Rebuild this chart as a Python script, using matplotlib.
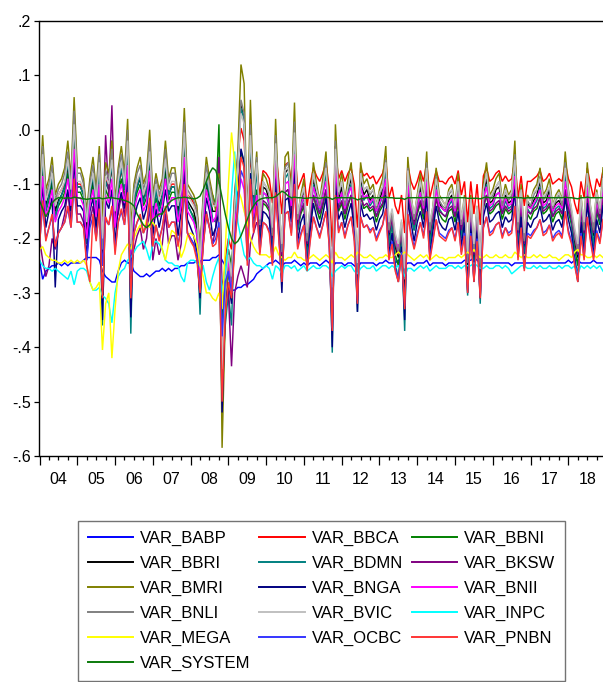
import numpy as np
import matplotlib
matplotlib.use("Agg")
import matplotlib.pyplot as plt
from matplotlib.ticker import FixedLocator, FuncFormatter, NullFormatter
from matplotlib.lines import Line2D

# Monthly observations 2004M01 - 2018M12; values in hundredths (1 = 0.01)
start_year = 2004
n_obs = 180

var_babp = [-24,-27.5,-26,-25.5,-25,-25,-24.5,-25,-24.5,-25,-24.5,-24.5,
 -24.5,-24.5,-24,-23.5,-23.5,-23.5,-23.5,-24,-26,-27,-27.5,-28,
 -28,-26,-24.5,-24,-24.5,-24.5,-26,-26.5,-27,-27,-26.5,-27,
 -26.5,-26,-26,-25.5,-26,-25.5,-26,-25.5,-25.5,-25,-25,-24.5,
 -24.5,-24.5,-24,-24.5,-24,-24,-24,-23.5,-23.5,-23,-24,-25,
 -27,-29.5,-29.5,-29,-29,-28.5,-28.5,-28,-27.5,-26.5,
 -26,-25.5,-25,-24.5,-24.5,-24,-24.5,-25,-24.5,-24.5,
 -24.5,-24,-24.5,-25,-24.5,-25,-24.5,-24.5,-24.5,-25,
 -24.5,-24,-24.5,-25.5,-24.5,-24.5,-24.5,-25,-24.5,-24.5,
 -25,-25.5,-24.5,-24.5,-24.5,-24.5,-24.5,-25,-24.5,-24.5,
 -24,-24.5,-24.5,-24.5,-24,-24.5,-25,-24.5,-24.5,-25,
 -24.5,-24.5,-24.5,-24,-25,-24.5,-24.5,-24.5,-24.5,-25,
 -24.5,-24.5,-24.5,-24.5,-24.5,-24,-24,-24,-23.5,-24,
 -24.5,-24.5,-24.5,-24.5,-24.5,-24.5,-24.5,-24.5,-24.5,-24.5,
 -25,-24.5,-24.5,-24.5,-24.5,-24.5,-24.5,-24.5,-24.5,-24.5,
 -24.5,-24.5,-24.5,-24.5,-24.5,-24.5,-24.5,-24.5,-24,-24.5,
 -24,-24,-24.5,-24.5,-24.5,-24.5,-24,-24.5,-24.5,-24.5]

var_bbca = [-13.5,-6,-12.5,-11,-8.5,-13.5,-12,-11,-10,-7,-11,-2,
 -10,-10,-11,-16,-11,-8.5,-12.5,-7.5,-20,-9,-10.5,-7,
 -14,-10,-7.5,-10.5,-4.5,-20,-12,-10,-8.5,-12,-10.5,-5.5,
 -13.5,-10.5,-12.5,-11,-7,-11,-10,-10,-13.5,-11,-3,-12,
 -12.5,-13.5,-15,-22,-13.5,-8.5,-11,-13.5,
 -14,-11,-40,-24,-20,-22,-12,-5,0.3,-2,-14,-5,-11,-7,
 -12,-7.5,-8,-9,-13.5,-3.5,-9.5,-15.5,-6.5,-6,
 -9.5,-2.5,-11,-9.5,-8,-14,-10,-7,-8.5,-9.5,
 -8,-6,-10.5,-21.5,-4,-9,-7.5,-9.5,-8,-7,
 -10,-18,-7,-8.5,-8,-9,-8.5,-10,-9,-8,
 -5.5,-12.5,-10.5,-14,-15.5,-12,-19,-6.5,-9.5,-11,
 -9.5,-7.5,-9.5,-6,-12.5,-10,-7.5,-9.5,-9.5,-10,
 -9,-8.5,-10,-7.5,-12,-9.5,-17,-9.5,-15.5,-10,
 -17.5,-8.5,-7,-9.5,-9,-8,-7.5,-9.5,-8.5,-9.5,
 -9,-5.5,-12.5,-8.5,-14,-9.5,-9.5,-9,-8.5,-7.5,
 -9.5,-9,-8,-10,-9.5,-9,-9.5,-6,-9,-10.5,
 -13.5,-15.5,-9.5,-12.5,-7,-10,-12.5,-9,-10.5,-7.5]

var_bbni = [-16,-7.5,-15,-13,-10,-16,-14,-13,-11.5,-8,-13,-2.5,
 -11.5,-11.5,-13,-19,-13,-10,-15,-9,-20,-11,-12.5,-2,
 -17,-11.5,-9,-12.5,-5.5,-22,-14,-11.5,-10,-14,-12.5,-6.5,
 -16,-12.5,-15,-13,-8,-13,-11.5,-11.5,-16,-13,-4,-14,
 -15,-16,-18,-26,-16,-10,-13,-12,
 -14,1,-35,-27,-22,-25,-16,-14,-4,-6,-22,-8,-16,-11,
 -19.5,-13.5,-14,-15,-22,-7.5,-16.5,-25,-11.5,-11,
 -15.5,-5.5,-18.5,-15.5,-14,-23,-17,-12,-14.5,-16.5,
 -14,-11,-17.5,-35,-8,-15,-13.5,-16.5,-14,-12,
 -17,-29.5,-12,-14.5,-14,-15,-14.5,-17,-15,-14,
 -10.5,-21,-17.5,-23,-25,-19.5,-31,-11.5,-15.5,-18.5,
 -15.5,-13.5,-16.5,-11,-21,-17,-12.5,-15.5,-16.5,-17,
 -15,-14.5,-17,-13.5,-19.5,-15.5,-27.5,-15.5,-25,-17,
 -28.5,-14.5,-12,-15.5,-15,-14,-13.5,-16.5,-14.5,-15.5,
 -15,-9.5,-21,-14.5,-23,-15.5,-16.5,-15,-14.5,-12.5,
 -15.5,-15,-14,-17,-15.5,-15,-16.5,-11,-15,-17.5,
 -22,-25,-15.5,-21,-12,-17,-21,-15,-17.5,-12.5]

var_bbri = [-15,-5.5,-14,-12,-9,-15,-13,-12,-10.5,-6.5,-12,0,
 -10.5,-10.5,-12,-18.5,-12,-9,-14,-7,-25,-9.5,-11,-6.5,
 -16.5,-10.5,-7,-11,-3,-26,-13,-10.5,-9,-13,-11,-5,
 -15,-11,-14,-12,-6.5,-12,-10.5,-10.5,-15,-12,-1.5,-13,
 -14,-15,-17.5,-26,-15,-9,-12,-15,
 -15,-10,-48,-28,-24,-28,-14,-6,4.5,2,-19,0,-13,-6,
 -18,-10.5,-11,-13,-20.5,-2.5,-14.5,-23.5,-8,-7,
 -13.5,0,-17,-13.5,-11,-21.5,-15,-9,-12,-14.5,
 -11,-7,-16,-33.5,-3,-13,-10.5,-14.5,-11,-9,
 -15,-28,-9,-12,-11,-13,-12,-15,-13,-11,
 -6.5,-19.5,-16,-21.5,-23.5,-18,-29,-8,-13.5,-17,
 -13.5,-10.5,-14.5,-7,-19.5,-15,-9.5,-13.5,-14.5,-15,
 -13,-12,-15,-10.5,-18,-13.5,-26,-13.5,-23.5,-15,
 -27,-12,-9,-13.5,-13,-11,-10.5,-14.5,-12,-13.5,
 -13,-5.5,-19.5,-12,-21.5,-13.5,-14.5,-13,-12,-9.5,
 -13.5,-13,-11,-15,-13.5,-13,-14.5,-7,-13,-16,
 -20.5,-23.5,-13.5,-19.5,-9,-15,-19.5,-13,-16,-9.5]

var_bdmn = [-16.5,-5,-15,-12,-8.5,-16.5,-13.5,-12,-10.5,-6,-12,1,
 -10.5,-10.5,-12,-21,-12,-8.5,-15,-7,-36,-9.5,-11,-6,
 -18,-10.5,-7,-11,-2.5,-37.5,-13.5,-10.5,-8.5,-13.5,-11,-4.5,
 -16.5,-11,-15,-12,-6,-12,-10.5,-10.5,-16.5,-12,-1,-13.5,
 -15,-16.5,-19.5,-34,-16.5,-8.5,-12,-16.5,
 -17,-12,-47,-36,-30,-36,-16,-6,4,2,-22,-1,-15,-7,
 -20,-11.5,-12,-14,-23,-3.5,-15.5,-27.5,-9,-8,
 -14.5,-1,-18.5,-14.5,-12,-24.5,-16,-10,-13,-15.5,
 -12,-8,-17,-41,-4,-14,-11.5,-15.5,-12,-10,
 -16,-33.5,-10,-13,-12,-14,-13,-16,-14,-12,
 -7.5,-21.5,-17,-24.5,-27.5,-20,-37,-9,-14.5,-18.5,
 -14.5,-11.5,-15.5,-8,-21.5,-16,-10.5,-14.5,-15.5,-16,
 -14,-13,-16,-11.5,-20,-14.5,-30.5,-14.5,-27.5,-16,
 -32,-13,-10,-14.5,-14,-12,-11.5,-15.5,-13,-14.5,
 -14,-6.5,-21.5,-13,-24.5,-14.5,-15.5,-14,-13,-10.5,
 -14.5,-14,-12,-16,-14.5,-14,-15.5,-8,-14,-17,
 -23,-27.5,-14.5,-21.5,-10,-16,-21.5,-14,-17,-10.5]

var_bksw = [-20,-24,-27,-25,-20,-22,-19,-18,-15.5,-11.5,-17,-5,
 -15.5,-15.5,-17,-23,-17,-14,-19,-12,-21,-1,-12,4.5,
 -17,-15.5,-12,-16,-8,-26,-22,-19.5,-18,-22,-20,-14,
 -24,-20,-23,-21,-15.5,-21,-19.5,-19.5,-24,-21,-8,-19,
 -20,-21,-23,-30,-21,-15,-18,-21,
 -18,-5,-30,-25,-30,-43.5,-30,-27,-25,-27,-29,-21,-19,-17,
 -18.5,-13,-13.5,-14.5,-20,-8,-15.5,-23,-11.5,-11,
 -15,-6.5,-17.5,-15,-13.5,-21,-16,-12,-14,-15.5,
 -13.5,-11,-16.5,-31,-8.5,-14.5,-13,-15.5,-13.5,-12,
 -16,-26.5,-12,-14,-13.5,-14.5,-14,-16,-14.5,-13.5,
 -10.5,-19,-16.5,-21,-23,-18.5,-27.5,-11.5,-15,-17.5,
 -15,-13,-15.5,-11,-19,-16,-12.5,-15,-15.5,-16,
 -14.5,-14,-16,-13,-18.5,-15,-24.5,-15,-23,-16,
 -25.5,-14,-12,-15,-14.5,-13.5,-13,-15.5,-14,-15,
 -14.5,-10,-19,-14,-21,-15,-15.5,-14.5,-14,-12.5,
 -15,-14.5,-13.5,-16,-15,-14.5,-15.5,-11,-14.5,-16.5,
 -20,-23,-15,-19,-12,-16,-19,-14.5,-16.5,-12.5]

var_bmri = [-12,-1,-11,-9,-5,-12,-10,-9,-7,-2,-9,6,
 -7,-7,-9,-15,-9,-5,-11,-3,-16,-6,-8,-2,
 -13,-7,-3,-8,2,-18,-10,-7,-5,-10,-8,0,
 -12,-8,-11,-9,-2,-9,-7,-7,-12,-9,4,-10,
 -11,-12,-14,-22,-12,-5,-9,-12,
 -15,-8,-58.5,-35,-25,-30,-12,-4,12,8.5,-18,5.5,-12,-4,
 -17,-8,-9,-11,-19,2,-13,-22,-5,-4,
 -12,5,-16,-12,-9,-20,-14,-6,-10,-13,
 -9,-4,-15,-31,1,-11,-8,-13,-9,-6,
 -14,-26,-6,-10,-9,-11,-10,-14,-11,-9,
 -3,-18,-15,-20,-22,-17,-27,-5,-12,-16,
 -12,-8,-13,-4,-18,-14,-7,-12,-13,-14,
 -11,-10,-14,-8,-17,-12,-24,-12,-22,-14,
 -25,-10,-6,-12,-11,-9,-8,-13,-10,-12,
 -11,-2,-18,-10,-20,-12,-13,-11,-10,-7,
 -12,-11,-9,-14,-12,-11,-13,-4,-11,-15,
 -19,-22,-12,-18,-6,-14,-18,-11,-15,-7]

var_bnga = [-19.5,-10,-18,-15,-12.5,-29,-16.5,-15,-14,-11,-15,-6,
 -14,-14,-15,-24,-15,-12.5,-18,-11.5,-35,-13,-14.5,-11,
 -21,-14,-11.5,-14.5,-8.5,-34.5,-16.5,-14,-12.5,-16.5,-14.5,-9.5,
 -19.5,-14.5,-18,-15,-11,-15,-14,-14,-19.5,-15,-7,-16.5,
 -18,-19.5,-22.5,-31,-19.5,-12.5,-15,-19.5,
 -18,-15,-52,-33,-28,-32,-20,-12,-3.5,-6,-24,-8,-18,-12,
 -21.5,-15,-15.5,-16.5,-24,-9,-18,-30,-13,-12.5,
 -17,-7,-20.5,-17,-15.5,-25.5,-18.5,-13.5,-16,-18,
 -15.5,-12.5,-19,-40,-9.5,-16.5,-15,-18,-15.5,-13.5,
 -18.5,-33.5,-13.5,-16,-15.5,-16.5,-16,-18.5,-16.5,-15.5,
 -12,-23,-19,-25.5,-28,-21.5,-35,-13,-17,-20.5,
 -17,-15,-18,-12.5,-23,-18.5,-14,-17,-18,-18.5,
 -16.5,-16,-18.5,-15,-21.5,-17,-30,-17,-28,-18.5,
 -31,-16,-13.5,-17,-16.5,-15.5,-15,-18,-16,-17,
 -16.5,-11,-23,-16,-25.5,-17,-18,-16.5,-16,-14,
 -17,-16.5,-15.5,-18.5,-17,-16.5,-18,-12.5,-16.5,-19,
 -24,-28,-17,-23,-13.5,-18.5,-23,-16.5,-19,-14]

var_bnii = [-17,-8.5,-16,-14,-11,-17,-15,-14,-12.5,-9,-14,-3.5,
 -12.5,-12.5,-14,-20,-14,-11,-16,-10,-22,-12,-13.5,-9,
 -18,-12.5,-10,-13.5,-6.5,-23,-15,-12.5,-11,-15,-13.5,-7.5,
 -17,-13.5,-16,-14,-9,-14,-12.5,-12.5,-17,-14,-5,-15,
 -16,-17,-19,-27,-17,-11,-14,-17,
 -16,-12,-42,-28,-24,-30,-17,-13,-9,-11,-21,-10,-16,-12,
 -17.5,-11.5,-12,-13.5,-19,-6,-14.5,-22,-10,-9.5,
 -14,-4.5,-16.5,-14,-12,-20,-15,-10.5,-12.5,-14.5,
 -12,-9.5,-15.5,-30,-6.5,-13.5,-11.5,-14.5,-12,-10.5,
 -15,-25.5,-10.5,-12.5,-12,-13.5,-12.5,-15,-13.5,-12,
 -9,-18,-15.5,-20,-22,-17.5,-26.5,-10,-14,-16.5,
 -14,-11.5,-14.5,-9.5,-18,-15,-11,-14,-14.5,-15,
 -13.5,-12.5,-15,-11.5,-17.5,-14,-23.5,-14,-22,-15,
 -24.5,-12.5,-10.5,-14,-13.5,-12,-11.5,-14.5,-12.5,-14,
 -13.5,-8.5,-18,-12.5,-20,-14,-14.5,-13.5,-12.5,-11,
 -14,-13.5,-12,-15,-14,-13.5,-14.5,-9.5,-13.5,-15.5,
 -19,-22,-14,-18,-10.5,-15,-18,-13.5,-15.5,-11]

var_bnli = [-13,-3,-12,-10,-6.5,-13,-11,-10,-8,-4,-10,3.5,
 -8,-8,-10,-16,-10,-6.5,-12,-4.5,-22,-7.5,-9,-3.5,
 -14,-8,-4.5,-9,0,-22,-11,-8,-6.5,-11,-9,-2,
 -13,-9,-12,-10,-3.5,-10,-8,-8,-13,-10,1.5,-11,
 -12,-13,-15,-23,-13,-6.5,-10,-13,
 -14,-9,-45,-30,-22,-28,-13,-5,5.5,3,-18,1,-12,-5,
 -17.5,-9.5,-10.5,-12,-19.5,-1,-14,-22.5,-7,-6,
 -13,1.5,-16.5,-13,-10.5,-20.5,-14.5,-8,-11,-14,
 -10.5,-6,-15.5,-31.5,-2,-12,-9.5,-14,-10.5,-8,
 -14.5,-26.5,-8,-11,-10.5,-12,-11,-14.5,-12,-10.5,
 -5.5,-18.5,-15.5,-20.5,-22.5,-17.5,-27.5,-7,-13,-16.5,
 -13,-9.5,-14,-6,-18.5,-14.5,-8.5,-13,-14,-14.5,
 -12,-11,-14.5,-9.5,-17.5,-13,-24.5,-13,-22.5,-14.5,
 -25.5,-11,-8,-13,-12,-10.5,-9.5,-14,-11,-13,
 -12,-4.5,-18.5,-11,-20.5,-13,-14,-12,-11,-8.5,
 -13,-12,-10.5,-14.5,-13,-12,-14,-6,-12,-15.5,
 -19.5,-22.5,-13,-18.5,-8,-14.5,-18.5,-12,-15.5,-8.5]

var_bvic = [-14,-4.5,-13,-11,-8,-14,-12,-11,-9.5,-5.5,-11,1,
 -9.5,-9.5,-11,-17,-11,-8,-13,-6,-20,-8.5,-10,-5.5,
 -15,-9.5,-6,-10,-2,-21,-12,-9.5,-8,-12,-10,-4,
 -14,-10,-13,-11,-5.5,-11,-9.5,-9.5,-14,-11,-0.5,-12,
 -13,-14,-16,-24,-14,-8,-11,-14,
 -14,-10,-44,-28,-23,-27,-14,-7,3,1,-17,-1,-12,-6,
 -16.5,-9.5,-10.5,-11.5,-18,-2.5,-13,-21,-7.5,-7,
 -12.5,-0.5,-15.5,-12.5,-10.5,-19,-14,-8,-11,-13,
 -10.5,-7,-14.5,-29,-3.5,-11.5,-9.5,-13,-10.5,-8,
 -14,-24.5,-8,-11,-10.5,-11.5,-11,-14,-11.5,-10.5,
 -6,-17,-14.5,-19,-21,-16.5,-25.5,-7.5,-12.5,-15.5,
 -12.5,-9.5,-13,-7,-17,-14,-9,-12.5,-13,-14,
 -11.5,-11,-14,-9.5,-16.5,-12.5,-22.5,-12.5,-21,-14,
 -23.5,-11,-8,-12.5,-11.5,-10.5,-9.5,-13,-11,-12.5,
 -11.5,-5.5,-17,-11,-19,-12.5,-13,-11.5,-11,-9,
 -12.5,-11.5,-10.5,-14,-12.5,-11.5,-13,-7,-11.5,-14.5,
 -18,-21,-12.5,-17,-8,-14,-17,-11.5,-14.5,-9]

var_inpc = [-24,-25,-25.5,-25.5,-26,-25.5,-26,-26.5,-27,-27.5,-26,-28.5,
 -26,-25.5,-25.5,-26,-28,-29.5,-29.5,-29,-30.5,-31,-32,-35.5,
 -30,-27,-26,-25.5,-24,-23.5,-22.5,-21.5,-21,-20.5,-22,-24,
 -21,-20.5,-21,-22,-24,-24.5,-24.5,-25,-25,-27,-28,-24.5,
 -24,-24,-24.5,-25,-25,-28,-29.5,-27,-25,-23.5,-30,-26,
 -21,-12,-4,-17,-20,-23,-24,-23.5,-24.5,-25,
 -25,-25.5,-25,-25.5,-27.5,-25,-25.5,-26.5,-25,-25,
 -25.5,-25,-26,-25.5,-25,-26,-25.5,-25,-25.5,-25.5,
 -25,-25,-25.5,-27,-26,-25.5,-25,-25.5,-25,-25,
 -26,-26.5,-25.5,-25,-25.5,-25.5,-25,-26,-25.5,-25,
 -25,-25.5,-25,-25.5,-25,-25.5,-27,-25.5,-25.5,-26,
 -25.5,-25,-25.5,-25,-26,-25.5,-25,-25.5,-25.5,-25.5,
 -25,-25,-25.5,-25,-25.5,-25,-25,-25,-24.5,-25,
 -25.5,-25.5,-25,-25.5,-25.5,-25,-25,-25.5,-25,-25.5,
 -26.5,-26,-25.5,-25,-25,-25.5,-25.5,-25,-25.5,-25,
 -25.5,-25.5,-25,-25.5,-25.5,-25,-25.5,-25,-25,-25.5,
 -25,-26.5,-25,-25.5,-25,-25.5,-25,-25.5,-25,-26]

var_mega = [-22,-21.5,-23,-23.5,-24,-24,-24.5,-24.5,-24,-24.5,-24,-24.5,
 -24,-24.5,-24,-25,-28,-29.5,-29,-28,-40.5,-32,-30,-42,
 -33,-26,-23,-22,-21,-22,-20,-18.5,-17.5,-19,-16.5,-18,
 -17,-18,-19.5,-22,-24,-21,-18.5,-19,-20.5,-23.5,-22,-19.5,
 -19,-19.5,-21,-25,-27,-30,-30,-31,-31.5,-30,-33,-22,
 -10,-0.5,-6,-11,-12.5,-15,-17,-20,-21.5,-22.5,
 -23,-23,-23,-23.5,-23,-21.5,-23,-23.5,-24,-23.5,
 -23.5,-22.5,-23.5,-23.5,-24,-24,-23.5,-23,-23.5,-24,
 -23.5,-23,-23.5,-24.5,-22.5,-23.5,-23.5,-24,-23.5,-23,
 -23.5,-22.5,-23,-23.5,-23.5,-23,-23.5,-24,-23.5,-23.5,
 -23,-23.5,-23.5,-23,-22.5,-23,-22.5,-23,-23.5,-24,
 -23.5,-23,-23.5,-23,-24,-23.5,-23,-23.5,-23.5,-24,
 -23.5,-23.5,-23.5,-23,-23.5,-23,-22.5,-23,-22,-23,
 -23.5,-23.5,-23,-23.5,-23.5,-23,-23.5,-23.5,-23,-23.5,
 -23.5,-22.5,-23,-23.5,-23,-23.5,-23.5,-23,-23.5,-23,
 -23.5,-23.5,-23,-23.5,-23.5,-24,-23.5,-23,-23,-23.5,
 -22.5,-22,-23,-23,-23.5,-23.5,-23,-23.5,-23,-23.5]

var_ocbc = [-21,-14,-20,-18,-16,-21,-19,-18,-17,-14.5,-18,-10.5,
 -17,-17,-18,-24,-18,-16,-20,-15,-25,-16.5,-17.5,-14.5,
 -22,-17,-15,-17.5,-12.5,-27,-19,-17,-16,-19,-17.5,-13.5,
 -21,-17.5,-20,-18,-14.5,-18,-17,-17,-21,-18,-11.5,-19,
 -20,-21,-23,-29,-21,-16,-18,-21,
 -20,-17,-38,-28,-26,-30,-20,-15,-7.5,-9,-24,-10,-18,-14,
 -22.5,-17,-17.5,-18.5,-24.5,-12,-19.5,-27.5,-15.5,-15,
 -19,-10.5,-21.5,-19,-17.5,-25.5,-20,-16,-18,-19.5,
 -17.5,-15,-20.5,-36.5,-12.5,-18.5,-17,-19.5,-17.5,-16,
 -20,-31.5,-16,-18,-17.5,-18.5,-18,-20,-18.5,-17.5,
 -14.5,-23.5,-20.5,-25.5,-27.5,-22.5,-32.5,-15.5,-19,-21.5,
 -19,-17,-19.5,-15,-23.5,-20,-16.5,-19,-19.5,-20,
 -18.5,-18,-20,-17,-22.5,-19,-29.5,-19,-27.5,-20,
 -30.5,-18,-16,-19,-18.5,-17.5,-17,-19.5,-18,-19,
 -18.5,-14,-23.5,-18,-25.5,-19,-19.5,-18.5,-18,-16.5,
 -19,-18.5,-17.5,-20,-19,-18.5,-19.5,-15,-18.5,-20.5,
 -24.5,-27.5,-19,-23.5,-16,-20,-23.5,-18.5,-20.5,-16.5]

var_pnbn = [-21.5,-13,-20.5,-18,-15.5,-21.5,-19,-18,-17,-14,-18,-9,
 -17,-17,-18,-25,-28,-15.5,-20.5,-14.5,-31,-16,-17.5,-14,
 -23,-17,-14.5,-17.5,-11.5,-31,-19,-17,-15.5,-19,-17.5,-12.5,
 -21.5,-17.5,-20.5,-18,-14,-18,-17,-17,-21.5,-18,-10,-19,
 -20.5,-21.5,-24,-30,-21.5,-15.5,-18,-21.5,
 -21,-18,-50,-34,-28,-31,-22,-14,-5,-7,-25,-9,-19,-14,
 -23,-17,-17.5,-19,-25,-11.5,-20,-28,-15.5,-15,
 -19.5,-10,-22,-19.5,-17.5,-26,-20.5,-16,-18,-20,
 -17.5,-15,-21,-37,-12,-19,-17,-20,-17.5,-16,
 -20.5,-32,-16,-18,-17.5,-19,-18,-20.5,-19,-17.5,
 -14.5,-24,-21,-26,-28,-23,-33,-15.5,-19.5,-22,
 -19.5,-17,-20,-15,-24,-20.5,-16.5,-19.5,-20,-20.5,
 -19,-18,-20.5,-17,-23,-19.5,-30,-19.5,-28,-20.5,
 -31,-18,-16,-19.5,-19,-17.5,-17,-20,-18,-19.5,
 -19,-14,-24,-18,-26,-19.5,-20,-19,-18,-16.5,
 -19.5,-19,-17.5,-20.5,-19.5,-19,-20,-15,-19,-21,
 -25,-28,-19.5,-24,-16,-20.5,-24,-19,-21,-16.5]

var_system = [-13,-14.5,-16,-15,-13.5,-12.8,-12.5,-12.5,-12.6,-12.5,-12.6,-12.4,
 -12.5,-12.6,-12.7,-12.8,-12.7,-12.6,-12.6,-12.5,-12.7,-12.6,-12.5,-12.5,
 -12.6,-12.7,-12.8,-13,-13.2,-13.5,-14,-15.5,-16.5,-17.5,-18,-17.5,
 -16.5,-16,-15.5,-15.5,-14.5,-13.5,-13,-12.7,-12.5,-12.5,-12.4,-12.5,
 -12.6,-12.7,-12.6,-12.2,-11,-9.5,-8,-7,-7.5,-9.5,-12.5,-15.5,
 -18,-20,-21,-20.5,-19.5,-18,-16.5,-15,-14,-13.2,
 -12.8,-12.6,-12.5,-12.5,-12.5,-12.3,-11.8,-11.3,-11.6,-12.2,
 -12.5,-12.4,-12.5,-12.5,-12.6,-12.6,-12.5,-12.5,-12.5,-12.6,
 -12.5,-12.4,-12.5,-12.8,-12.5,-12.5,-12.5,-12.5,-12.5,-12.5,
 -12.6,-12.9,-12.7,-12.6,-12.5,-12.5,-12.5,-12.5,-12.5,-12.5,
 -12.4,-12.5,-12.5,-12.6,-12.6,-12.6,-12.8,-12.5,-12.5,-12.5,
 -12.5,-12.5,-12.5,-12.4,-12.5,-12.5,-12.5,-12.5,-12.5,-12.5,
 -12.5,-12.5,-12.5,-12.5,-12.5,-12.5,-12.6,-12.6,-12.6,-12.6,
 -12.7,-12.5,-12.4,-12.5,-12.5,-12.5,-12.5,-12.5,-12.5,-12.5,
 -12.5,-12.4,-12.5,-12.5,-12.6,-12.5,-12.5,-12.5,-12.5,-12.5,
 -12.5,-12.5,-12.5,-12.5,-12.5,-12.5,-12.5,-12.4,-12.5,-12.5,
 -12.6,-12.7,-12.5,-12.5,-12.4,-12.5,-12.5,-12.5,-12.5,-12.5]

series_names = ["VAR_BABP", "VAR_BBCA", "VAR_BBNI", "VAR_BBRI", "VAR_BDMN", "VAR_BKSW",
                "VAR_BMRI", "VAR_BNGA", "VAR_BNII", "VAR_BNLI", "VAR_BVIC", "VAR_INPC",
                "VAR_MEGA", "VAR_OCBC", "VAR_PNBN", "VAR_SYSTEM"]
series_values = [var_babp, var_bbca, var_bbni, var_bbri, var_bdmn, var_bksw,
                 var_bmri, var_bnga, var_bnii, var_bnli, var_bvic, var_inpc,
                 var_mega, var_ocbc, var_pnbn, var_system]
series_colors = ["#0000FF", "#FF0000", "#008000", "#000000", "#008080", "#800080",
                 "#808000", "#000080", "#FF00FF", "#808080", "#C0C0C0", "#00FFFF",
                 "#FFFF00", "#3535FF", "#FF3535", "#0B7A0B"]
year_labels = [f"{y % 100:02d}" for y in range(2004, 2019)]
y_ticks = [-0.6, -0.5, -0.4, -0.3, -0.2, -0.1, 0.0, 0.1, 0.2]

plt.rcParams['font.family'] = ['Liberation Sans', 'DejaVu Sans']

W, H = 603, 682
fig = plt.figure(figsize=(W / 100, H / 100), dpi=100)
left_px, top_px, bottom_px = 39.5, 21.0, 456.0
ax = fig.add_axes([left_px / W, 1 - bottom_px / H, 1 - left_px / W, (bottom_px - top_px) / H])

t = start_year + np.arange(n_obs) / 12.0
handles = {}
for name, vals, col in zip(series_names, series_values, series_colors):
    v = np.asarray(vals, dtype=float) / 100.0
    ln, = ax.plot(t[:len(v)], v, color=col, lw=1.05, solid_joinstyle='miter')
    handles[name] = ln

ax.set_xlim(start_year, start_year + (n_obs - 1) / 12.0)
ax.set_ylim(-0.6, 0.2)

for s in ["left", "bottom", "top"]:
    ax.spines[s].set_linewidth(1.0)
    ax.spines[s].set_color("black")
ax.spines["right"].set_visible(False)

ax.yaxis.set_major_locator(FixedLocator(y_ticks))
def yfmt(v, p):
    s = f"{v:.1f}"
    if s == "-0.0":
        s = "0.0"
    s = s.replace("0.", ".", 1) if s.startswith("0.") else s.replace("-0.", "-.", 1)
    return s
ax.yaxis.set_major_formatter(FuncFormatter(yfmt))
ax.tick_params(axis='y', direction='out', length=3.3, width=0.9, pad=3.0, labelsize=11.5)

years = list(range(2004, 2019))
ax.xaxis.set_major_locator(FixedLocator(years))
ax.xaxis.set_major_formatter(NullFormatter())
quarters = [y + q for y in years for q in (0.25, 0.5, 0.75)]
ax.xaxis.set_minor_locator(FixedLocator(quarters))
lab_map = {y + 0.5: lab for y, lab in zip(years, year_labels)}
def xfmt(v, p):
    for k, lab in lab_map.items():
        if abs(v - k) < 1e-6:
            return lab
    return ""
ax.xaxis.set_minor_formatter(FuncFormatter(xfmt))
ax.tick_params(axis='x', which='major', direction='out', length=6.3, width=0.9)
ax.tick_params(axis='x', which='minor', direction='out', length=3.1, width=0.9, pad=8.5, labelsize=11.5)

order = ["VAR_BABP", "VAR_BBRI", "VAR_BMRI", "VAR_BNLI", "VAR_MEGA", "VAR_SYSTEM",
         "VAR_BBCA", "VAR_BDMN", "VAR_BNGA", "VAR_BVIC", "VAR_OCBC",
         "VAR_BBNI", "VAR_BKSW", "VAR_BNII", "VAR_INPC", "VAR_PNBN"]
leg_handles = [Line2D([], [], color=handles[n].get_color(), lw=1.4) for n in order]
leg = fig.legend(leg_handles, order, ncol=3, loc='upper left',
                 bbox_to_anchor=(77.5 / W, 1 - 520.5 / H), bbox_transform=fig.transFigure,
                 frameon=True, fancybox=False, shadow=False, edgecolor='#505050',
                 fontsize=12, handlelength=2.75, handletextpad=0.4, columnspacing=0.52,
                 labelspacing=0.59, borderpad=0.6, borderaxespad=0.0)
leg.get_frame().set_linewidth(1.0)

fig.savefig("out.png", dpi=100)
